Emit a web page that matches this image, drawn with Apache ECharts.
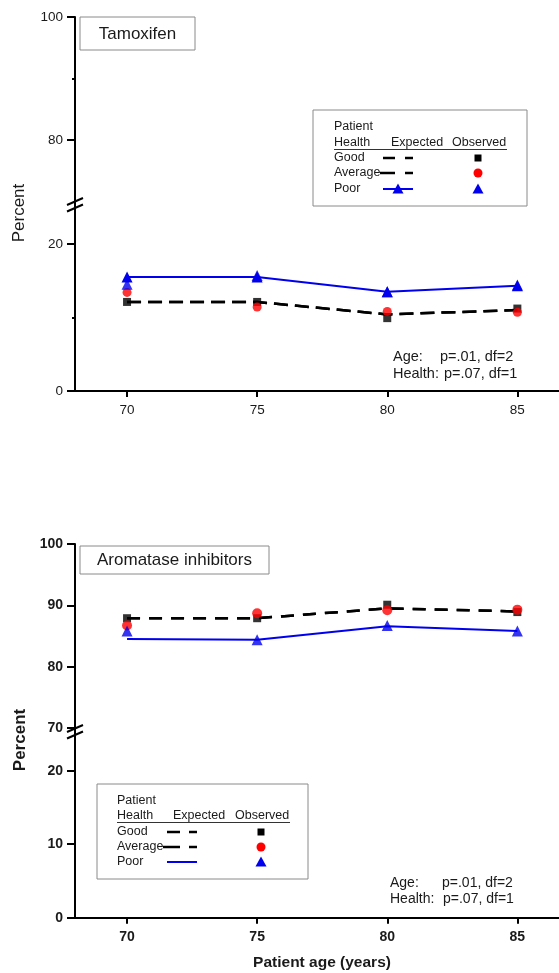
<!DOCTYPE html>
<html>
<head>
<meta charset="utf-8">
<script src="https://cdn.jsdelivr.net/npm/echarts@6/dist/echarts.min.js"></script>
<style>html,body{margin:0;padding:0;background:#fff}#c{width:559px;height:973px}</style>
</head>
<body>
<div id="c"></div>
<script>
// ---- data ----
const ages = [70, 75, 80, 85];
const xTicks = [70, 75, 80, 85];
// Tamoxifen (percent)
const tamGoodExp = [12.1, 12.1, 10.4, 11.0];
const tamAvgExp  = [12.1, 12.1, 10.4, 11.0];
const tamPoorExp = [15.5, 15.5, 13.5, 14.3];
const tamGoodObs = [12.1, 12.1, 9.9, 11.2];
const tamAvgObs  = [13.4, 11.4, 10.8, 10.7];
const tamPoorObs = [14.5, 15.7, 13.5, 14.4];
// Aromatase inhibitors (percent)
const aiGoodExp = [87.9, 87.9, 89.5, 89.0];
const aiAvgExp  = [87.9, 87.9, 89.5, 89.0];
const aiPoorExp = [84.5, 84.4, 86.6, 85.8];
const aiGoodObs = [87.9, 87.9, 90.1, 88.9];
const aiAvgObs  = [86.7, 88.7, 89.2, 89.3];
const aiPoorObs = [85.8, 84.4, 86.7, 85.8];
// tick labels
const tamUpperLabels = [80, 100];
const tamUpperMinor = [90];
const tamLowerLabels = [0, 20];
const tamLowerMinor = [10];
const aiUpperLabels = [70, 80, 90, 100];
const aiLowerLabels = [0, 10, 20];

const FONT = 'Liberation Sans, Arial, sans-serif';
const TXT = '#1a1a1a';
const pair = arr => ages.map((a, i) => [a, arr[i]]);

function xAxis(grid, show, bold) {
  return {
    gridIndex: grid, type: 'value', min: 68, max: 86.6, show: show,
    axisLine: {show: true, onZero: false, lineStyle: {color: '#000', width: 2}},
    axisTick: {show: true, customValues: xTicks, length: 6, lineStyle: {color: '#000', width: 2}},
    axisLabel: {show: true, customValues: xTicks, margin: 12, color: TXT, fontFamily: FONT,
      fontSize: bold ? 14 : 13.5, fontWeight: bold ? 'bold' : 'normal'},
    splitLine: {show: false}
  };
}
function yAxis(grid, min, max, labels, bold, showLine, tickLen) {
  return {
    gridIndex: grid, type: 'value', min: min, max: max, position: 'left',
    axisLine: {show: showLine, onZero: false, lineStyle: {color: '#000', width: 2}},
    axisTick: {show: true, customValues: labels, length: tickLen, lineStyle: {color: '#000', width: 2}},
    axisLabel: {show: showLine, customValues: labels, margin: 12, color: TXT, fontFamily: FONT,
      fontSize: bold ? 14 : 13.5, fontWeight: bold ? 'bold' : 'normal'},
    splitLine: {show: false}
  };
}

function lineSeries(x, y, data, color, dash, symbol) {
  return {
    type: 'line', xAxisIndex: x, yAxisIndex: y, data: pair(data),
    lineStyle: {color: color, width: dash ? 2.5 : 2, type: dash || 'solid'},
    symbol: symbol || 'none', symbolSize: 11, itemStyle: {color: color},
    silent: true, animation: false, z: 2
  };
}
function obsSeries(x, y, data, color, symbol, size) {
  return {
    type: 'scatter', xAxisIndex: x, yAxisIndex: y, data: pair(data),
    symbol: symbol, symbolSize: size, itemStyle: {color: color},
    silent: true, animation: false, z: 3
  };
}

// legend graphic helper
function legend(bx, by, bw, bh, tx, ex, ox, rows, dashA, dashB, poorTri, symX) {
  const g = [];
  const ts = {fontFamily: FONT, fontSize: 12.5, fill: TXT, verticalAlign: 'middle'};
  g.push({type: 'rect', shape: {x: bx, y: by, width: bw, height: bh}, style: {fill: '#fff', stroke: '#8a8a8a', lineWidth: 1}, z: 10});
  g.push({type: 'text', x: tx, y: rows[0], style: Object.assign({text: 'Patient'}, ts), z: 11});
  g.push({type: 'text', x: tx, y: rows[1], style: Object.assign({text: 'Health'}, ts), z: 11});
  g.push({type: 'text', x: ex, y: rows[1], style: Object.assign({text: 'Expected'}, ts), z: 11});
  g.push({type: 'text', x: ox, y: rows[1], style: Object.assign({text: 'Observed'}, ts), z: 11});
  g.push({type: 'line', shape: {x1: tx, y1: rows[1] + 6.5, x2: ox + 55, y2: rows[1] + 6.5}, style: {stroke: '#333', lineWidth: 1}, z: 11});
  g.push({type: 'text', x: tx, y: rows[2], style: Object.assign({text: 'Good'}, ts), z: 11});
  g.push({type: 'text', x: tx, y: rows[3], style: Object.assign({text: 'Average'}, ts), z: 11});
  g.push({type: 'text', x: tx, y: rows[4], style: Object.assign({text: 'Poor'}, ts), z: 11});
  dashA.forEach(s => g.push({type: 'line', shape: {x1: s[0], y1: rows[2], x2: s[1], y2: rows[2]}, style: {stroke: '#000', lineWidth: 2.5}, z: 11}));
  dashB.forEach(s => g.push({type: 'line', shape: {x1: s[0], y1: rows[3], x2: s[1], y2: rows[3]}, style: {stroke: '#000', lineWidth: 2.5}, z: 11}));
  const px1 = dashA[0][0], px2 = dashA[dashA.length - 1][1];
  g.push({type: 'line', shape: {x1: px1, y1: rows[4], x2: px2, y2: rows[4]}, style: {stroke: '#0000ee', lineWidth: 2}, z: 11});
  const tri = (cx, cy) => ({type: 'polygon', shape: {points: [[cx, cy - 5.5], [cx - 5.5, cy + 4.5], [cx + 5.5, cy + 4.5]]}, style: {fill: '#0000ee'}, z: 12});
  if (poorTri) g.push(tri((px1 + px2) / 2, rows[4]));
  g.push({type: 'rect', shape: {x: symX - 3.5, y: rows[2] - 3.5, width: 7, height: 7}, style: {fill: '#000'}, z: 12});
  g.push({type: 'circle', shape: {cx: symX, cy: rows[3], r: 4.5}, style: {fill: '#ff0000'}, z: 12});
  g.push(tri(symX, rows[4]));
  return g;
}

const chart = echarts.init(document.getElementById('c'), null, {renderer: 'canvas'});

const graphics = [].concat(
  // titles
  [{type: 'rect', shape: {x: 80, y: 17, width: 115, height: 33}, style: {fill: '#fff', stroke: '#8a8a8a', lineWidth: 1}, z: 10},
   {type: 'text', x: 137.5, y: 34, style: {text: 'Tamoxifen', fontFamily: FONT, fontSize: 17, fill: TXT, align: 'center', verticalAlign: 'middle'}, z: 11},
   {type: 'rect', shape: {x: 80, y: 546, width: 189, height: 28}, style: {fill: '#fff', stroke: '#8a8a8a', lineWidth: 1}, z: 10},
   {type: 'text', x: 174.5, y: 560.5, style: {text: 'Aromatase inhibitors', fontFamily: FONT, fontSize: 17, fill: TXT, align: 'center', verticalAlign: 'middle'}, z: 11},
   // y titles
   {type: 'text', x: 19, y: 213, rotation: Math.PI / 2, style: {text: 'Percent', fontFamily: FONT, fontSize: 17, fill: TXT, align: 'center', verticalAlign: 'middle'}},
   {type: 'text', x: 20, y: 740, rotation: Math.PI / 2, style: {text: 'Percent', fontFamily: FONT, fontSize: 17, fontWeight: 'bold', fill: TXT, align: 'center', verticalAlign: 'middle'}},
   {type: 'text', x: 322, y: 963, style: {text: 'Patient age (years)', fontFamily: FONT, fontSize: 15.5, fontWeight: 'bold', fill: TXT, align: 'center', verticalAlign: 'middle'}},
   // stats
   {type: 'text', x: 393, y: 357, style: {text: 'Age:', fontFamily: FONT, fontSize: 14.5, fill: TXT, verticalAlign: 'middle'}},
   {type: 'text', x: 440, y: 357, style: {text: 'p=.01, df=2', fontFamily: FONT, fontSize: 14.5, fill: TXT, verticalAlign: 'middle'}},
   {type: 'text', x: 393, y: 374, style: {text: 'Health:', fontFamily: FONT, fontSize: 14.5, fill: TXT, verticalAlign: 'middle'}},
   {type: 'text', x: 444, y: 374, style: {text: 'p=.07, df=1', fontFamily: FONT, fontSize: 14.5, fill: TXT, verticalAlign: 'middle'}},
   {type: 'text', x: 390, y: 883, style: {text: 'Age:', fontFamily: FONT, fontSize: 14, fill: TXT, verticalAlign: 'middle'}},
   {type: 'text', x: 442, y: 883, style: {text: 'p=.01, df=2', fontFamily: FONT, fontSize: 14, fill: TXT, verticalAlign: 'middle'}},
   {type: 'text', x: 390, y: 899.5, style: {text: 'Health:', fontFamily: FONT, fontSize: 14, fill: TXT, verticalAlign: 'middle'}},
   {type: 'text', x: 443, y: 899.5, style: {text: 'p=.07, df=1', fontFamily: FONT, fontSize: 14, fill: TXT, verticalAlign: 'middle'}},
   // axis breaks (axis continues through the break)
   {type: 'line', shape: {x1: 75, y1: 200, x2: 75, y2: 208}, style: {stroke: '#000', lineWidth: 2}, z: 12},
   {type: 'line', shape: {x1: 75, y1: 727, x2: 75, y2: 735}, style: {stroke: '#000', lineWidth: 2}, z: 12},
   {type: 'line', shape: {x1: 67, y1: 205, x2: 83, y2: 198}, style: {stroke: '#000', lineWidth: 2}, z: 12},
   {type: 'line', shape: {x1: 67, y1: 211.5, x2: 83, y2: 204.5}, style: {stroke: '#000', lineWidth: 2}, z: 12},
   {type: 'line', shape: {x1: 67, y1: 732, x2: 83, y2: 725}, style: {stroke: '#000', lineWidth: 2}, z: 12},
   {type: 'line', shape: {x1: 67, y1: 738.5, x2: 83, y2: 731.5}, style: {stroke: '#000', lineWidth: 2}, z: 12}
  ],
  legend(313, 110, 214, 96, 334, 391, 452, [127, 143, 158, 173, 189],
         [[383, 395], [405, 413]], [[380, 395], [405, 413]], true, 478),
  legend(97, 784, 211, 95, 117, 173, 235, [801, 816, 832, 847, 862],
         [[167, 180], [189, 197]], [[163, 180], [189, 197]], false, 261)
);

chart.setOption({
  animation: false,
  backgroundColor: '#fff',
  grid: [
    {left: 75, right: 0, top: 17, height: 184.5},
    {left: 75, right: 0, top: 207, height: 184},
    {left: 75, right: 0, top: 544, height: 184},
    {left: 75, right: 0, top: 734, height: 183.7}
  ],
  xAxis: [xAxis(0, false, false), xAxis(1, true, false), xAxis(2, false, true), xAxis(3, true, true)],
  yAxis: [
    yAxis(0, 70, 100, tamUpperLabels, false, true, 8),
    yAxis(0, 70, 100, tamUpperMinor, false, false, 3),
    yAxis(1, 0, 25, tamLowerLabels, false, true, 8),
    yAxis(1, 0, 25, tamLowerMinor, false, false, 3),
    yAxis(2, 70, 100, aiUpperLabels, true, true, 8),
    yAxis(3, 0, 25, aiLowerLabels, true, true, 8)
  ],
  series: [
    lineSeries(1, 2, tamAvgExp, '#000', [14, 7]),
    lineSeries(1, 2, tamGoodExp, '#000', [14, 7]),
    lineSeries(1, 2, tamPoorExp, '#0000ee', null, 'triangle'),
    obsSeries(1, 2, tamGoodObs, '#000', 'rect', 8),
    obsSeries(1, 2, tamAvgObs, '#ff0000', 'circle', 9),
    obsSeries(1, 2, tamPoorObs, '#0000ee', 'triangle', 11),
    lineSeries(2, 4, aiAvgExp, '#000', [13, 9]),
    lineSeries(2, 4, aiGoodExp, '#000', [13, 9]),
    lineSeries(2, 4, aiPoorExp, '#0000ee', null),
    obsSeries(2, 4, aiGoodObs, '#000', 'rect', 8),
    obsSeries(2, 4, aiAvgObs, '#ff0000', 'circle', 10),
    obsSeries(2, 4, aiPoorObs, '#0000ee', 'triangle', 11)
  ],
  graphic: graphics
});
</script>
</body>
</html>
